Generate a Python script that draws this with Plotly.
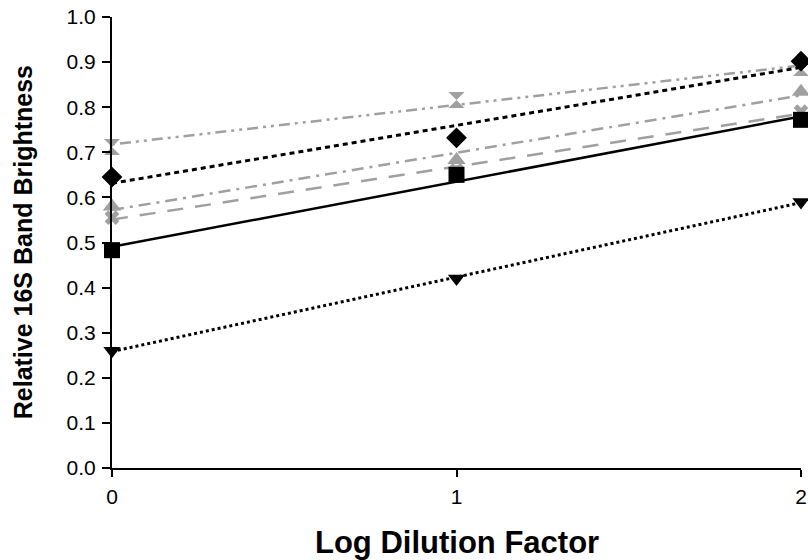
import numpy as np
import plotly.graph_objects as go

x_vals = [0, 1, 2]
square_vals = [0.483, 0.65, 0.772]
diamond_vals = [0.645, 0.732, 0.902]
tri_down_vals = [0.26, 0.42, 0.59]
hourglass_vals = [0.712, 0.816, 0.887]
tri_up_vals = [0.58, 0.683, 0.834]
xmark_vals = [0.555, 0.66, 0.79]

x_ticks = [0, 1, 2]
y_ticks = [0.0, 0.1, 0.2, 0.3, 0.4, 0.5, 0.6, 0.7, 0.8, 0.9, 1.0]

GRAY = "#a0a0a0"
series = [
    # values, marker symbol, marker color, marker size, line color, dash, width
    (hourglass_vals, "hourglass", GRAY, 16, GRAY, "3px,5px,11px,5px,3px,5px", 2.5),
    (xmark_vals, "x", GRAY, 13, GRAY, "16px,12px", 2.5),
    (tri_up_vals, "triangle-up", GRAY, 16, GRAY, "12px,6px,3px,6px", 2.5),
    (tri_down_vals, "triangle-down", "black", 15, "black", "3px,3px", 3),
    (diamond_vals, "diamond", "black", 16, "black", "5px,4px", 3),
    (square_vals, "square", "black", 16, "black", "solid", 2.5),
]

fig = go.Figure()
xs = np.array(x_vals, dtype=float)
for vals, sym, mcol, msz, lcol, dash, w in series:
    slope, icpt = np.polyfit(xs, np.array(vals), 1)
    line_x = [xs.min(), xs.max()]
    line_y = [icpt + slope * v for v in line_x]
    fig.add_trace(go.Scatter(x=line_x, y=line_y, mode="lines",
                             line=dict(color=lcol, dash=dash, width=w),
                             showlegend=False, hoverinfo="skip", cliponaxis=False))
for vals, sym, mcol, msz, lcol, dash, w in series:
    fig.add_trace(go.Scatter(x=x_vals, y=vals, mode="markers",
                             marker=dict(symbol=sym, color=mcol, size=msz,
                                         line=dict(width=0)),
                             showlegend=False, cliponaxis=False))

font = "Liberation Sans, Arial, sans-serif"
fig.update_layout(
    width=808, height=560,
    margin=dict(l=112, r=1, t=17, b=92),
    paper_bgcolor="white", plot_bgcolor="white",
    font=dict(family=font, color="black", size=21),
    xaxis=dict(range=[0, 2], tickvals=x_ticks, ticktext=[str(t) for t in x_ticks],
               showgrid=False, zeroline=False, showline=True, linecolor="black",
               linewidth=2, ticks="outside", ticklen=7, tickwidth=2, tickcolor="black",
               tickfont=dict(size=21, family=font), ticklabeloverflow="allow",
               ticklabelstandoff=2),
    yaxis=dict(range=[0, 1.0], tickvals=y_ticks, ticktext=[f"{t:.1f}" for t in y_ticks],
               showgrid=False, zeroline=False, showline=True, linecolor="black",
               linewidth=2, ticks="outside", ticklen=8, tickwidth=2, tickcolor="black",
               tickfont=dict(size=21, family=font), ticklabeloverflow="allow",
               ticklabelstandoff=2),
    annotations=[
        dict(text="<b>Log Dilution Factor</b>", xref="paper", yref="paper",
             x=0.5, y=-0.166, xanchor="center", yanchor="middle", showarrow=False,
             font=dict(size=31, family=font)),
        dict(text="<b>Relative 16S Band Brightness</b>", xref="paper", yref="paper",
             x=-0.1295, y=0.5, xanchor="center", yanchor="middle", showarrow=False,
             textangle=-90, font=dict(size=25, family=font)),
    ],
)

fig.write_html("out.html")
